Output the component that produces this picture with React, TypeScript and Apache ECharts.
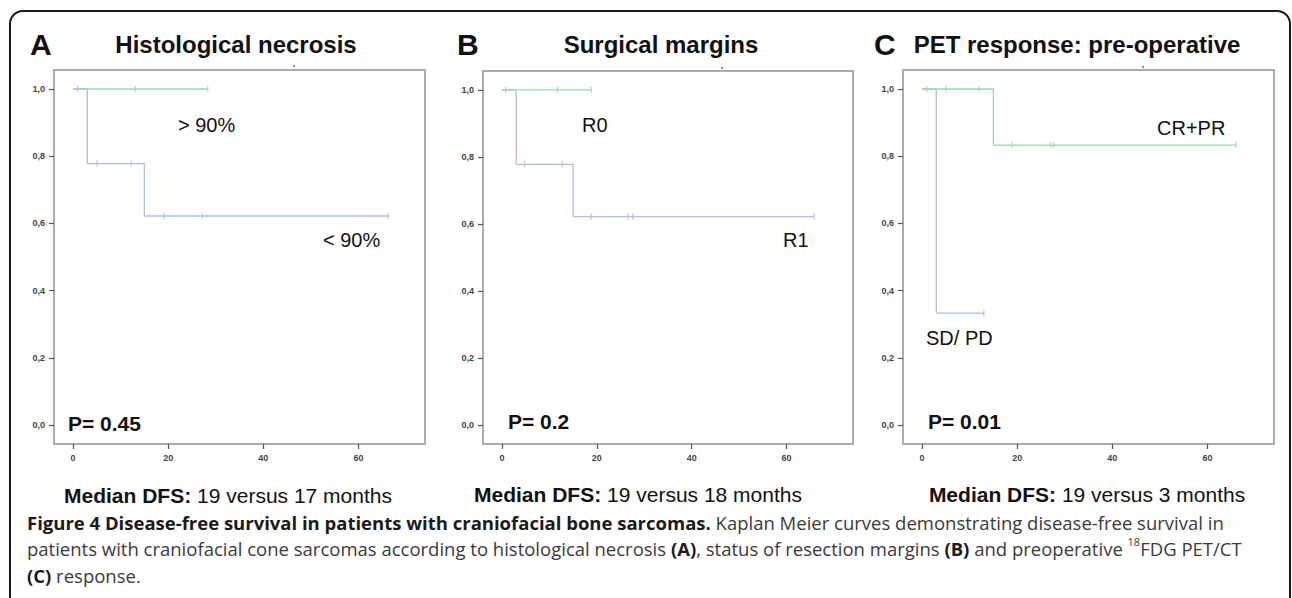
import React, { useEffect, useRef } from "react";
import * as echarts from "echarts";

// ---- axis ticks ----
const yTickValues = [0, 0.2, 0.4, 0.6, 0.8, 1.0];
const xTickValues = [0, 20, 40, 60];

// ---- Panel A: Histological necrosis ----
const aHighCurve = [[0, 1], [28.3, 1]];
const aHighCensor = [[13.1, 1], [28.3, 1]];
const aLowCurve = [[0, 1], [3, 0.778], [15, 0.622], [66.3, 0.622]];
const aLowCensor = [[1, 1], [5, 0.778], [12.2, 0.778], [19.2, 0.622], [27.2, 0.622], [66.3, 0.622]];

// ---- Panel B: Surgical margins ----
const bR0Curve = [[0, 1], [18.8, 1]];
const bR0Censor = [[11.7, 1], [18.8, 1]];
const bR1Curve = [[0, 1], [3, 0.778], [15, 0.622], [65.8, 0.622]];
const bR1Censor = [[0.8, 1], [4.8, 0.778], [12.7, 0.778], [18.8, 0.622], [26.6, 0.622], [27.6, 0.622], [65.8, 0.622]];

// ---- Panel C: PET response ----
const cRespCurve = [[0, 1], [15, 0.833], [66, 0.833]];
const cRespCensor = [[1, 1], [5, 1], [12, 1], [19, 0.833], [27.1, 0.833], [27.7, 0.833], [66, 0.833]];
const cNonCurve = [[0, 1], [3, 0.333], [13, 0.333]];
const cNonCensor = [[13, 0.333]];

const GREEN = "#98dca8";
const BLUE = "#b0bde8";
const ARIAL = "'Liberation Sans', Arial, sans-serif";
const CAPTION_FONT = "'Open Sans', sans-serif";

export default function App() {
  const ref = useRef<HTMLDivElement>(null);

  useEffect(() => {
    const chart = echarts.init(ref.current!, null, { renderer: "svg" });

    const grids = [
      { left: 54, top: 70, width: 371, height: 374 },
      { left: 483, top: 71, width: 370, height: 373 },
      { left: 903, top: 70, width: 371, height: 374 },
    ].map((g) => ({ ...g, show: true, borderColor: "#ababab", borderWidth: 2, backgroundColor: "transparent" }));

    const xAxes = [0, 1, 2].map((i) => ({
      type: "value",
      gridIndex: i,
      min: -4,
      max: 74,
      position: "bottom",
      axisLine: { show: false, onZero: false },
      splitLine: { show: false },
      axisTick: { show: true, customValues: xTickValues, length: 5, lineStyle: { color: "#555", width: 1.2 } },
      axisLabel: {
        customValues: xTickValues,
        fontSize: 9,
        fontWeight: "bold",
        color: "#444",
        fontFamily: ARIAL,
        margin: 9,
      },
    }));

    const yAxes = [0, 1, 2].map((i) => ({
      type: "value",
      gridIndex: i,
      min: -0.0565,
      max: 1.0565,
      position: "left",
      axisLine: { show: false, onZero: false },
      splitLine: { show: false },
      axisTick: { show: true, customValues: yTickValues, length: 5, lineStyle: { color: "#555", width: 1.2 } },
      axisLabel: {
        customValues: yTickValues,
        fontSize: 9,
        fontWeight: "bold",
        color: "#444",
        fontFamily: ARIAL,
        margin: 9,
        formatter: (v: number) => v.toFixed(1).replace(".", ","),
      },
    }));

    const curve = (idx: number, data: number[][], color: string, z: number) => ({
      type: "line",
      xAxisIndex: idx,
      yAxisIndex: idx,
      data,
      step: "end",
      showSymbol: false,
      symbol: "none",
      lineStyle: { color, width: 1.3 },
      z,
      silent: true,
    });
    const censor = (idx: number, data: number[][], color: string, z: number) => ({
      type: "scatter",
      xAxisIndex: idx,
      yAxisIndex: idx,
      data,
      symbol: "rect",
      symbolSize: [1.4, 6],
      itemStyle: { color },
      z,
      silent: true,
    });

    const series = [
      curve(0, aHighCurve, GREEN, 2),
      censor(0, aHighCensor, GREEN, 3),
      curve(0, aLowCurve, BLUE, 4),
      censor(0, aLowCensor, BLUE, 5),
      curve(1, bR0Curve, GREEN, 2),
      censor(1, bR0Censor, GREEN, 3),
      curve(1, bR1Curve, BLUE, 4),
      censor(1, bR1Censor, BLUE, 5),
      curve(2, cNonCurve, BLUE, 2),
      censor(2, cNonCensor, BLUE, 3),
      curve(2, cRespCurve, GREEN, 4),
      censor(2, cRespCensor, GREEN, 5),
    ];

    const txt = (x: number, y: number, text: string, size: number, bold: boolean, align = "left", extra: any = {}) => ({
      type: "text",
      x,
      y,
      silent: true,
      style: {
        text,
        fontSize: size,
        fontWeight: bold ? "bold" : "normal",
        fontFamily: ARIAL,
        fill: "#111",
        align,
        verticalAlign: "middle",
        ...extra,
      },
    });

    const median = (cx: number, y: number, rest: string) => ({
      type: "text",
      x: cx,
      y,
      silent: true,
      style: {
        text: "{b|Median DFS:} " + rest,
        fontSize: 21,
        fontFamily: ARIAL,
        fill: "#111",
        align: "center",
        verticalAlign: "middle",
        rich: { b: { fontWeight: "bold", fontSize: 21, fontFamily: ARIAL, fill: "#111" } },
      },
    });

    const CAP = 18.5;
    const capStyle = (text: string) => ({
      text,
      fontSize: CAP,
      fontFamily: CAPTION_FONT,
      fill: "#3a3a3a",
      align: "left",
      verticalAlign: "middle",
      rich: {
        b: { fontWeight: "bold", fontSize: CAP, fontFamily: CAPTION_FONT, fill: "#1a1a1a" },
        sup: { fontSize: 11, fontFamily: CAPTION_FONT, fill: "#3a3a3a", verticalAlign: "top", lineHeight: 24 },
      },
    });

    const graphic = [
      {
        type: "rect",
        silent: true,
        shape: { x: 10, y: 11, width: 1280, height: 640, r: 13 },
        style: { fill: "none", stroke: "#1a1a1a", lineWidth: 2 },
      },
      // panel titles
      txt(30, 44, "A", 30, true),
      txt(236, 44, "Histological necrosis", 24, true, "center"),
      txt(457, 44, "B", 30, true),
      txt(661, 44, "Surgical margins", 24, true, "center"),
      txt(874, 44, "C", 30, true),
      txt(1077, 44, "PET response: pre-operative", 24, true, "center"),
      // tiny dots above plot frames
      { type: "circle", silent: true, shape: { cx: 294, cy: 66, r: 1 }, style: { fill: "#777" } },
      { type: "circle", silent: true, shape: { cx: 722, cy: 68, r: 1 }, style: { fill: "#777" } },
      { type: "circle", silent: true, shape: { cx: 1143, cy: 67, r: 1 }, style: { fill: "#777" } },
      // group labels
      txt(178, 125, "> 90%", 20, false),
      txt(323, 240, "< 90%", 20, false),
      txt(582, 125, "R0", 20, false),
      txt(783, 240, "R1", 20, false),
      txt(1157, 128, "CR+PR", 20, false),
      txt(926, 338, "SD/ PD", 20, false),
      // p values
      txt(68, 423, "P= 0.45", 21, true),
      txt(508, 421, "P= 0.2", 21, true),
      txt(928, 421, "P= 0.01", 21, true),
      // medians
      median(228, 495, "19 versus 17 months"),
      median(638, 494, "19 versus 18 months"),
      median(1087, 494, "19 versus 3 months"),
      // caption
      {
        type: "text",
        x: 27,
        y: 522,
        silent: true,
        style: capStyle(
          "{b|Figure 4 Disease-free survival in patients with craniofacial bone sarcomas.} Kaplan Meier curves demonstrating disease-free survival in"
        ),
      },
      {
        type: "text",
        x: 27,
        y: 548,
        silent: true,
        style: capStyle(
          "patients with craniofacial cone sarcomas according to histological necrosis {b|(A)}, status of resection margins {b|(B)} and preoperative {sup|18}FDG PET/CT"
        ),
      },
      {
        type: "text",
        x: 27,
        y: 575,
        silent: true,
        style: capStyle("{b|(C)} response."),
      },
    ];

    chart.setOption({
      animation: false,
      backgroundColor: "#ffffff",
      grid: grids,
      xAxis: xAxes,
      yAxis: yAxes,
      series,
      graphic,
    });

    return () => chart.dispose();
  }, []);

  return (
    <div
      ref={ref}
      style={{ position: "absolute", left: 0, top: 0, width: 1292, height: 598, background: "#fff" }}
    />
  );
}
